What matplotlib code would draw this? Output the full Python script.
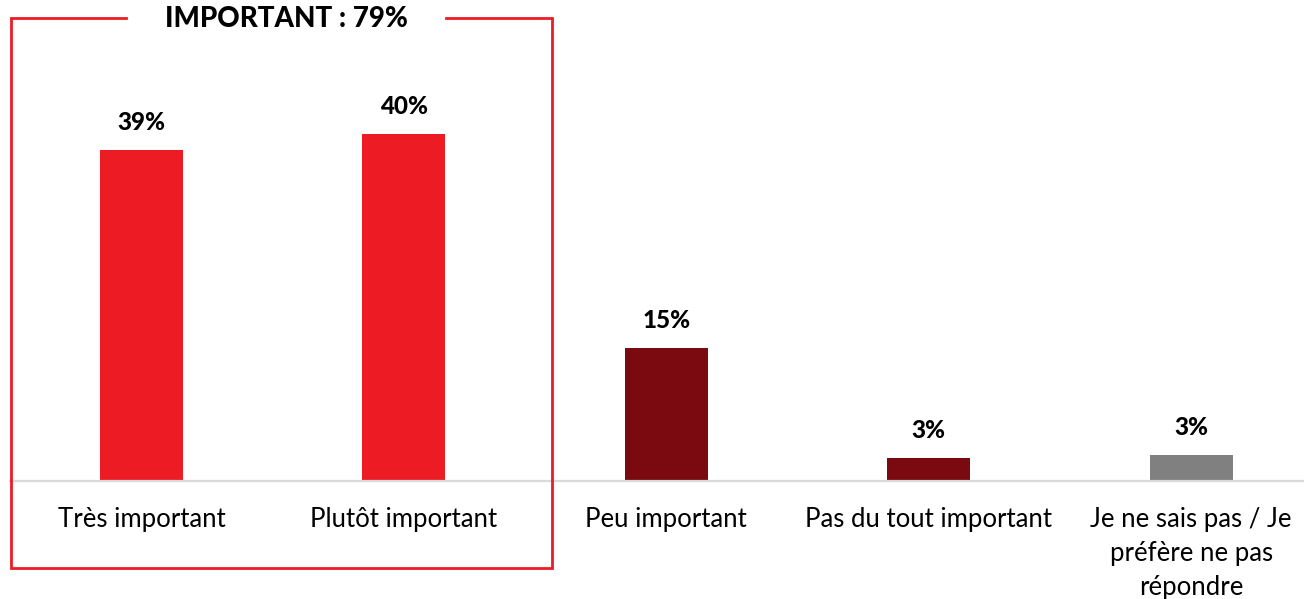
import matplotlib
matplotlib.use("Agg")
import matplotlib.pyplot as plt
from matplotlib.lines import Line2D

plt.rcParams['font.family'] = ['Lato', 'DejaVu Sans']

categories = ["Très important", "Plutôt important", "Peu important",
              "Pas du tout important", "Je ne sais pas / Je\npréfère ne pas\nrépondre"]
values = [38.5, 40.3, 15.5, 2.7, 3.0]
value_labels = ["39%", "40%", "15%", "3%", "3%"]
colors = ["#ED1C24", "#ED1C24", "#7B0A10", "#7B0A10", "#808080"]
group_title = "IMPORTANT : 79%"

W, H = 1304, 599
fig = plt.figure(figsize=(W / 100, H / 100), dpi=100)

# axes placed in pixel terms so the baseline sits at y=481
base_px = 481
px_per_unit = 8.6
slot = 262.4
left_px = 141.5 - slot / 2
ax = fig.add_axes([left_px / W, (H - base_px) / H, 5 * slot / W, base_px / H])
ax.set_xlim(-0.5, 4.5)
ax.set_ylim(0, base_px / px_per_unit)

x = range(len(categories))
bars = ax.bar(x, values, width=0.316, color=colors, zorder=2)

for b, lab in zip(bars, value_labels):
    ax.annotate(lab, (b.get_x() + b.get_width() / 2, b.get_height()),
                xytext=(0, 16), textcoords="offset pixels",
                ha="center", va="bottom", fontsize=17.5, fontweight=900, color="black")

ax.set_xticks(list(x))
ax.set_xticklabels(categories, fontsize=18.5, color="black", linespacing=1.45)
ax.tick_params(axis="x", length=0, pad=18.6)
ax.set_yticks([])
for s in ["top", "left", "right"]:
    ax.spines[s].set_visible(False)
ax.spines["bottom"].set_color("#D9D9D9")
ax.spines["bottom"].set_linewidth(1.6)
ax.spines["bottom"].set_zorder(3)

# red frame around the "important" group, with a gap for its title
bx = [126, 10.5, 10.5, 551.5, 551.5, 446]
by = [18, 18, 568, 568, 18, 18]
fig.add_artist(Line2D([v / W for v in bx], [1 - v / H for v in by],
                      transform=fig.transFigure, color="#ED1C24", linewidth=2,
                      solid_joinstyle="miter"))
fig.text(286 / W, 1 - 19 / H, group_title, ha="center", va="center",
         fontsize=20, fontweight=900, color="black")

fig.savefig("out.png", dpi=100)
